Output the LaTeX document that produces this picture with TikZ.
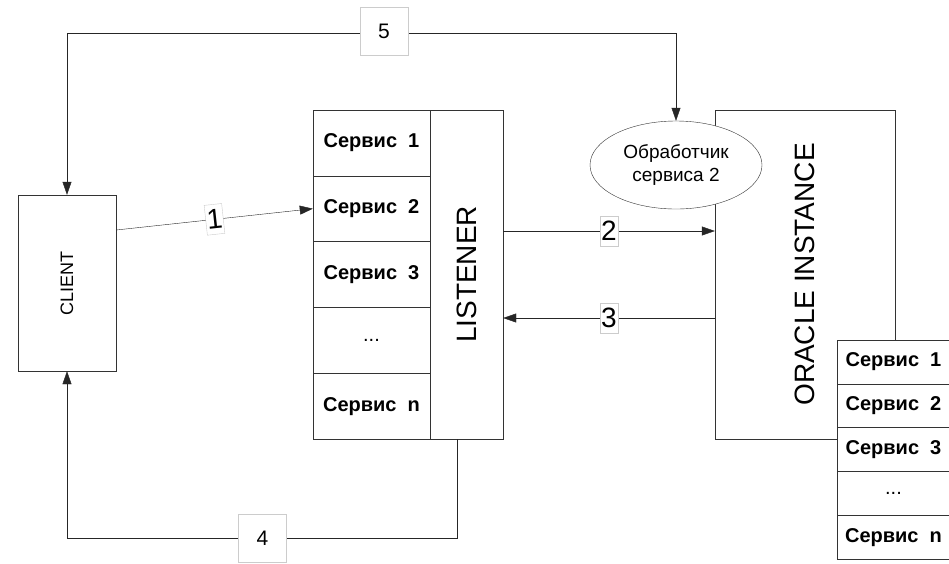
\documentclass[tikz,border=0pt]{standalone}
\usepackage{fontspec}
\setmainfont{Liberation Sans}
\usepackage{graphicx}
\usetikzlibrary{arrows.meta,shapes.geometric}

\tikzset{
  box/.style={draw=black!80, fill=white, inner sep=0pt},
  cell/.style={box, minimum width=117pt, minimum height=65.8pt, font=\fontsize{20}{22}\selectfont\bfseries},
  rcell/.style={box, minimum width=113pt, minimum height=43.8pt, font=\fontsize{20}{22}\selectfont\bfseries},
  conn/.style={draw=black!85, -{Triangle[length=13pt,width=9pt]}},
  numtag/.style={draw=black!20, fill=white, inner xsep=1pt, inner ysep=0pt, minimum height=30pt, font=\fontsize{28}{28}\selectfont},
  bigtag/.style={draw=black!20, fill=white, inner sep=0pt, minimum size=48pt, font=\fontsize{21}{21}\selectfont},
}

\begin{document}
\begin{tikzpicture}[x=1pt, y=-1pt]
\useasboundingbox (0,0) rectangle (949,563);
\clip (0,0) rectangle (949,563);

% client
\node[box, minimum width=98pt, minimum height=176pt, font=\fontsize{18}{18}\selectfont] (client) at (67,283) {\rotatebox{90}{CLIENT}};

% listener with its services
\foreach \i/\t in {1/Сервис~~1, 2/Сервис~~2, 3/Сервис~~3, 4/{\mdseries ...}, 5/Сервис~~n}
  \node[cell] (s\i) at (371.5,{110+65.8*(\i-0.5)}) {\t};
\node[box, minimum width=73pt, minimum height=329pt, font=\fontsize{28}{28}\selectfont] (listener) at (466.5,274.5) {\rotatebox{90}{LISTENER}};

% instance
\node[box, minimum width=180pt, minimum height=329pt, font=\fontsize{28}{28}\selectfont] (oracle) at (805,274.5) {\rotatebox{90}{ORACLE INSTANCE}};
\node[ellipse, draw=black!80, fill=white, minimum width=172pt, minimum height=88pt, inner sep=0pt, align=center, font=\fontsize{19}{23}\selectfont] (handler) at (676,165) {Обработчик\\сервиса 2};
\foreach \i/\t in {1/Сервис~~1, 2/Сервис~~2, 3/Сервис~~3, 4/{\mdseries ...}, 5/Сервис~~n}
  \node[rcell] (r\i) at (893.5,{340+43.8*(\i-0.5)}) {\t};

% requests
\draw[conn] ([yshift=53pt]client.east) -- node[numtag, sloped] (l1) {1} (s2.west);
\draw[conn] ([yshift=43.5pt]listener.east) -- node[numtag] (l2) {2} ([yshift=43.5pt]oracle.west);
\draw[conn] ([yshift=-43.5pt]oracle.west) -- node[numtag] (l3) {3} ([yshift=-43.5pt]listener.east);

\coordinate (bot) at (0,538);
\draw[conn] ([xshift=-9.5pt]listener.south) -- ([xshift=-9.5pt]listener.south |- bot) -| (client.south);
\node[bigtag] (l4) at (262.5,538) {4};

\coordinate (top) at (676,33);
\draw[conn, {Triangle[length=13pt,width=9pt]}-{Triangle[length=13pt,width=9pt]}] (client.north) |- (top) -- (handler.north);
\node[bigtag] (l5) at (384,31) {5};
\end{tikzpicture}
\end{document}
